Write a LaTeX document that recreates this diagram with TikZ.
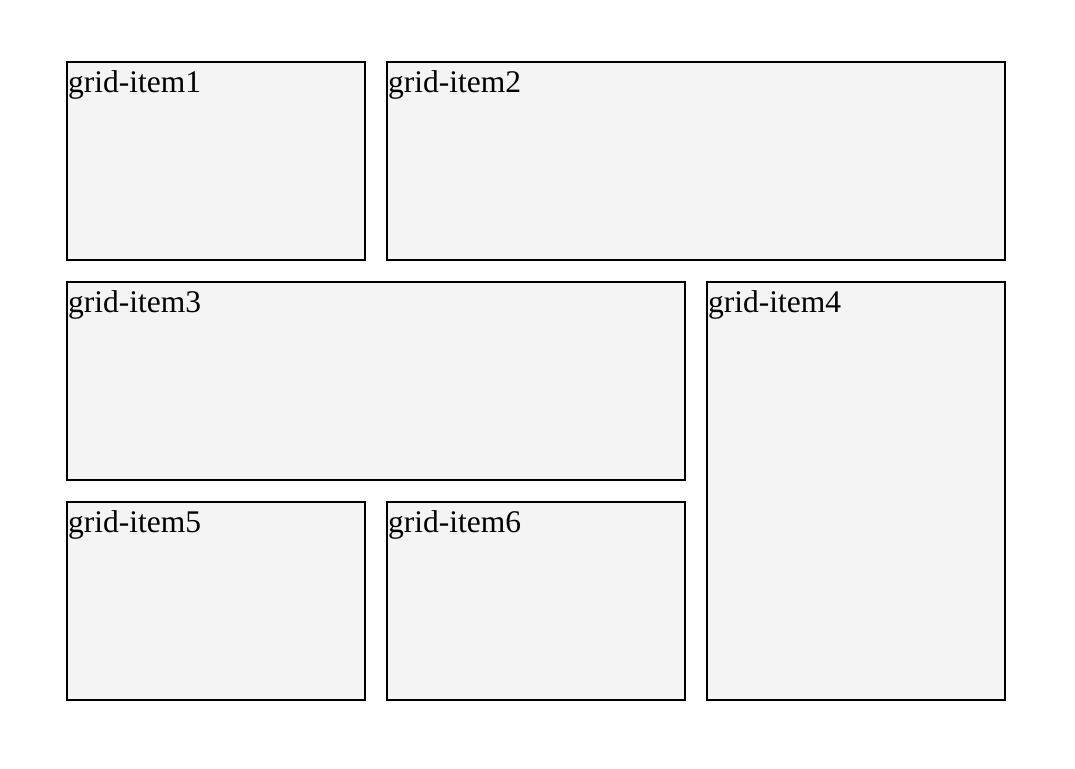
\documentclass[tikz,border=0pt]{standalone}
\usepackage{fontspec}
\setmainfont{Liberation Serif}
\definecolor{itemfill}{HTML}{F4F4F4}
\tikzset{
  item/.style={draw=black, line width=2pt, fill=itemfill},
  itemlabel/.style={anchor=base west, inner sep=0pt, font=\fontsize{31.5}{38}\selectfont}
}
\begin{document}
\begin{tikzpicture}[x=1pt,y=-1pt]
\useasboundingbox (0,0) rectangle (1075,768);
\fill[white] (0,0) rectangle (1075,768);
\draw[item] (67,62) rectangle (365,260);
\draw[item] (387,62) rectangle (1005,260);
\draw[item] (67,282) rectangle (685,480);
\draw[item] (707,282) rectangle (1005,700);
\draw[item] (67,502) rectangle (365,700);
\draw[item] (387,502) rectangle (685,700);
\node[itemlabel] (t1) at (68,92.5) {grid-item1};
\node[itemlabel] (t2) at (388,92.5) {grid-item2};
\node[itemlabel] (t3) at (68,312.5) {grid-item3};
\node[itemlabel] (t4) at (708,312.5) {grid-item4};
\node[itemlabel] (t5) at (68,532.5) {grid-item5};
\node[itemlabel] (t6) at (388,532.5) {grid-item6};
\end{tikzpicture}
\end{document}
